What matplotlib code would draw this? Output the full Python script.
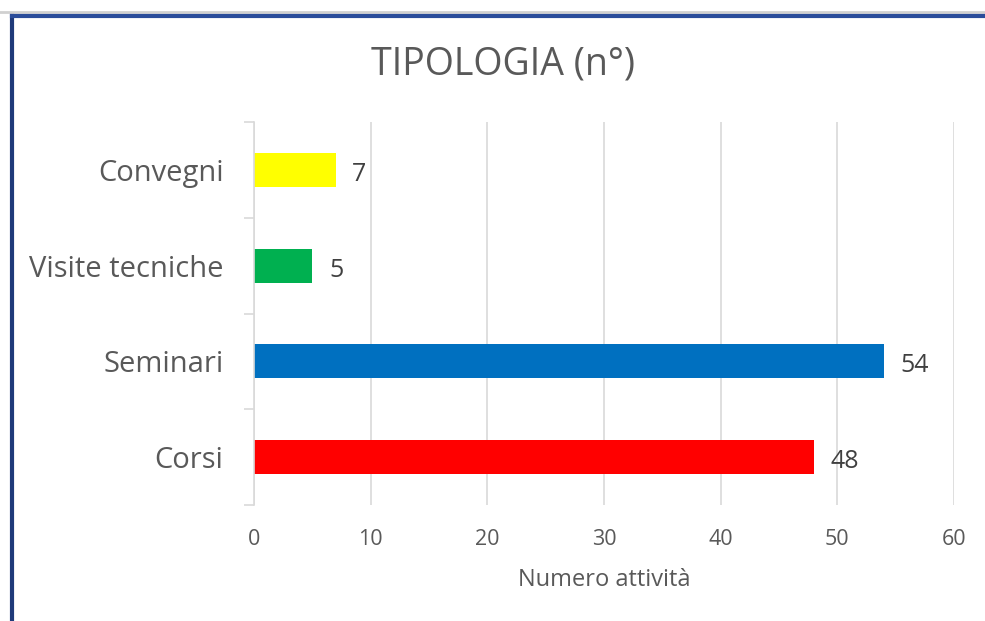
import matplotlib
matplotlib.use("Agg")
import matplotlib.pyplot as plt
from matplotlib.lines import Line2D

categories = ["Corsi", "Seminari", "Visite tecniche", "Convegni"]
values = [48, 54, 5, 7]
colors = ["#FF0000", "#0070C0", "#00B050", "#FFFF00"]
xticks = [0, 10, 20, 30, 40, 50, 60]
title = "TIPOLOGIA (n°)"
xlabel = "Numero attività"

plt.rcParams['font.family'] = ['Open Sans', 'DejaVu Sans']

W, H = 985, 621
fig = plt.figure(figsize=(W / 100, H / 100), dpi=100)
fig.patch.set_facecolor("white")

# frame border (left and top edges visible)
fig.add_artist(Line2D([0, 1], [1 - 12 / H, 1 - 12 / H], transform=fig.transFigure,
                      color="#D0D0D0", lw=2))
fig.add_artist(Line2D([11.5 / W, 11.5 / W], [0, 1 - 15.5 / H], transform=fig.transFigure,
                      color="#1F3A7A", lw=3, solid_capstyle="projecting"))
fig.add_artist(Line2D([11.5 / W, 1], [1 - 15.5 / H, 1 - 15.5 / H], transform=fig.transFigure,
                      color="#2A4C9A", lw=3, solid_capstyle="projecting"))

ax = fig.add_axes([254 / W, 1 - 505 / H, 700 / W, (505 - 122) / H])
ypos = list(range(len(categories)))
bars = ax.barh(ypos, values, height=0.355, color=colors, zorder=3)

ax.set_xlim(0, 60)
ax.set_ylim(-0.5, len(categories) - 0.5)
ax.set_xticks(xticks)
ax.set_xticklabels([str(t) for t in xticks])
ax.set_yticks(ypos)
ax.set_yticklabels(categories)
ax.set_yticks([i - 0.5 for i in range(len(categories) + 1)], minor=True)

for s in ["top", "right", "bottom"]:
    ax.spines[s].set_visible(False)
ax.spines["left"].set_color("#D9D9D9")
ax.spines["left"].set_linewidth(1.2)
ax.spines["left"].set_zorder(4)

ax.xaxis.grid(True, color="#D9D9D9", lw=1.2, zorder=0)
ax.set_axisbelow(True)

ax.tick_params(axis="x", length=0, pad=17, labelsize=15.5, labelcolor="#595959")
ax.tick_params(axis="y", which="major", length=0, pad=22, labelsize=21, labelcolor="#595959")
ax.tick_params(axis="y", which="minor", length=7, width=1.2, color="#D9D9D9", direction="out")

for b, v in zip(bars, values):
    ax.annotate(str(v), xy=(b.get_width(), b.get_y() + b.get_height() / 2),
                xytext=(12, -1), textcoords="offset points", va="center_baseline", ha="left",
                fontsize=18, color="#404040")

ax.set_xlabel(xlabel, fontsize=17, color="#595959", labelpad=13)
fig.text(503 / W, 1 - 65 / H, title, ha="center", va="center", fontsize=27, color="#595959")

fig.savefig("out.png", dpi=100, facecolor="white")
